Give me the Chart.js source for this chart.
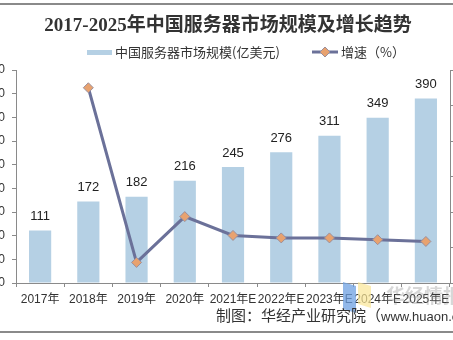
<!DOCTYPE html>
<html>
<head>
<meta charset="utf-8">
<script src="https://cdn.jsdelivr.net/npm/chart.js@4.4.0/dist/chart.umd.min.js"></script>
<style>
  html, body { margin: 0; padding: 0; background: #fff; overflow: hidden; }
  body { width: 453px; height: 340px; position: relative; }
  #wrap { position: absolute; left: -30px; top: 0; width: 513px; height: 340px; }
  .linea { position: absolute; left: 0; width: 453px; height: 2px; background: #8a8a8a; }
  #fuente { position: absolute; left: 216px; top: 304px; color: #333; white-space: nowrap;
            font: 15px "Noto Sans CJK SC", sans-serif; }
  #fuente span { font: 13px "Liberation Sans", sans-serif; }
  #marca { position: absolute; left: 386px; top: 281px; color: rgba(140,140,140,0.35);
           font: bold 19px "Noto Sans CJK SC", sans-serif; white-space: nowrap; }
  .logo { position: absolute; top: 284px; width: 13px; height: 27px; }
</style>
</head>
<body>
<div class="linea" style="top:3px"></div>
<div id="wrap"><canvas id="graficaServidores"></canvas></div>
<div class="logo" style="left:343px;background:rgba(110,160,225,0.75);transform:skewY(18deg)"></div>
<div class="logo" style="left:358px;background:rgba(250,230,150,0.7);height:22px;transform:skewY(18deg)"></div>
<div id="marca">华经情报网</div>
<div id="fuente">制图：华经产业研究院（<span>www.huaon.com）</span></div>
<div class="linea" style="top:331px"></div>

<script>
// datos
const anios = ["2017年", "2018年", "2019年", "2020年", "2021年E", "2022年E", "2023年E", "2024年E", "2025年E"];
const mercado = [111, 172, 182, 216, 245, 276, 311, 349, 390];
const crecimiento = [null, 55.0, 5.8, 18.7, 13.4, 12.7, 12.7, 12.2, 11.7];
const ticksIzq = [0, 50, 100, 150, 200, 250, 300, 350, 400, 450];
const ticksDer = [0, 10, 20, 30, 40, 50, 60];

const titulo = "2017-2025年中国服务器市场规模及增长趋势";
const colorBarra = "#b5d0e4";
const colorLinea = "#6b7199";
const colorPunto = "#e8a26f";
const OFF = 30; // desplazamiento del canvas

// titulo, leyenda y etiquetas de las barras
const dibujoExtra = {
    id: "dibujoExtra",
    afterDatasetsDraw(chart) {
        const ctx = chart.ctx;
        ctx.save();

        // valores encima de las barras
        const metaBar = chart.getDatasetMeta(1);
        ctx.font = '13px "Liberation Sans", sans-serif';
        ctx.fillStyle = "#222";
        ctx.textAlign = "center";
        ctx.textBaseline = "middle";
        metaBar.data.forEach((b, i) => {
            ctx.fillText(String(mercado[i]), b.x, b.y - 14);
        });

        // titulo
        ctx.font = 'bold 19px "Liberation Serif", "Noto Sans CJK SC", serif';
        ctx.fillStyle = "#333";
        ctx.fillText(titulo, 228 + OFF, 26);

        // leyenda
        const ly = 52;
        ctx.fillStyle = colorBarra;
        ctx.fillRect(87 + OFF, ly - 2, 25, 5);
        ctx.font = '13px "Noto Sans CJK SC", sans-serif';
        ctx.fillStyle = "#333";
        ctx.textAlign = "left";
        ctx.fillText(chart.data.datasets[1].label, 115 + OFF, ly);

        ctx.strokeStyle = colorLinea;
        ctx.lineWidth = 3;
        ctx.beginPath();
        ctx.moveTo(312 + OFF, ly);
        ctx.lineTo(338 + OFF, ly);
        ctx.stroke();
        ctx.beginPath();
        const cx = 325 + OFF;
        ctx.moveTo(cx, ly - 5);
        ctx.lineTo(cx + 5, ly);
        ctx.lineTo(cx, ly + 5);
        ctx.lineTo(cx - 5, ly);
        ctx.closePath();
        ctx.fillStyle = colorPunto;
        ctx.fill();
        ctx.lineWidth = 1;
        ctx.strokeStyle = "#9a8f9c";
        ctx.stroke();
        ctx.fillStyle = "#333";
        ctx.fillText(chart.data.datasets[0].label, 341 + OFF, ly);

        ctx.restore();
    },
};

const ctx = document.getElementById("graficaServidores").getContext("2d");

new Chart(ctx, {
    type: "bar",
    data: {
        labels: anios,
        datasets: [
            {
                type: "line",
                label: "增速（%）",
                data: crecimiento,
                yAxisID: "yDer",
                order: 0,
                borderColor: colorLinea,
                borderWidth: 3,
                pointStyle: "rectRot",
                pointRadius: 5,
                pointBackgroundColor: colorPunto,
                pointBorderColor: "#9a8f9c",
                pointBorderWidth: 1,
                spanGaps: false,
            },
            {
                type: "bar",
                label: "中国服务器市场规模(亿美元)",
                data: mercado,
                yAxisID: "yIzq",
                order: 1,
                backgroundColor: colorBarra,
                categoryPercentage: 1,
                barPercentage: 0.46,
            },
        ],
    },
    options: {
        responsive: true,
        maintainAspectRatio: false,
        animation: false,
        layout: { padding: { top: 70, left: 0, right: 0, bottom: 0 } },
        plugins: {
            legend: { display: false },
            title: { display: false },
            tooltip: { enabled: false },
        },
        scales: {
            x: {
                afterFit: (s) => { s.height = 57; },
                grid: { drawOnChartArea: false, tickLength: 4, color: "#8a8a8a" },
                border: { color: "#8a8a8a" },
                ticks: {
                    maxRotation: 0,
                    autoSkip: false,
                    padding: 5,
                    color: "#333",
                    font: { family: '"Liberation Sans", "Noto Sans CJK SC"', size: 12 },
                },
            },
            yIzq: {
                position: "left",
                min: 0,
                max: 450,
                afterFit: (s) => { s.width = 46; },
                afterBuildTicks: (s) => { s.ticks = ticksIzq.map((v) => ({ value: v })); },
                grid: { drawOnChartArea: false, tickLength: 4, color: "#8a8a8a" },
                border: { color: "#8a8a8a" },
                ticks: {
                    padding: 7,
                    color: "#333",
                    font: { family: '"Liberation Sans"', size: 12 },
                },
            },
            yDer: {
                position: "right",
                min: 0,
                max: 60,
                afterFit: (s) => { s.width = 33; },
                afterBuildTicks: (s) => { s.ticks = ticksDer.map((v) => ({ value: v })); },
                grid: { drawOnChartArea: false, tickLength: 4, color: "#8a8a8a" },
                border: { color: "#8a8a8a" },
                ticks: {
                    padding: 6,
                    color: "#333",
                    callback: (v) => v + "%",
                    font: { family: '"Liberation Sans"', size: 12 },
                },
            },
        },
    },
    plugins: [dibujoExtra],
});
</script>
</body>
</html>
